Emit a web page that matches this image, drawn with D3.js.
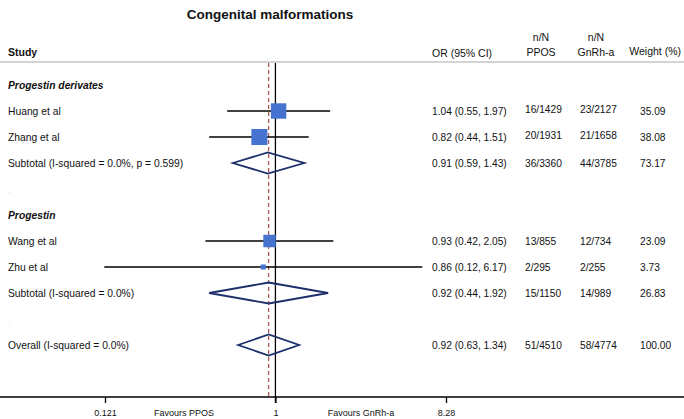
<!DOCTYPE html>
<html>
<head>
<meta charset="utf-8">
<script src="https://cdn.jsdelivr.net/npm/d3@7"></script>
<style>
  body { margin: 0; background: #fff; }
  text { font-family: "Liberation Sans", Arial, sans-serif; fill: #111; }
</style>
</head>
<body>
<div id="chart"></div>
<script>
// rows of the forest plot, top to bottom
var rowLabels = ["Progestin derivates", "Huang et al", "Zhang et al",
    "Subtotal  (I-squared = 0.0%, p = 0.599)", ".", "Progestin", "Wang et al",
    "Zhu et al", "Subtotal  (I-squared = 0.0%)", ".", "Overall  (I-squared = 0.0%)"];
var rowTypes = ["group", "study", "study", "diamond", "blank", "group", "study",
    "study", "diamond", "blank", "diamond"];
var orVals = [null, 1.04, 0.82, 0.91, null, null, 0.93, 0.86, 0.92, null, 0.92];
var loVals = [null, 0.55, 0.44, 0.59, null, null, 0.42, 0.12, 0.44, null, 0.63];
var hiVals = [null, 1.97, 1.51, 1.43, null, null, 2.05, 6.17, 1.92, null, 1.34];
var pposVals = ["", "16/1429", "20/1931", "36/3360", "", "", "13/855", "2/295", "15/1150", "", "51/4510"];
var gnrhVals = ["", "23/2127", "21/1658", "44/3785", "", "", "12/734", "2/255", "14/989", "", "58/4774"];
var weightVals = [null, 35.09, 38.08, 73.17, null, null, 23.09, 3.73, 26.83, null, 100.00];
var overallOR = 0.92;
var tickVals = [0.121, 1, 8.28];
var tickLabels = ["0.121", "1", "8.28"];

var width = 684, height = 419;
var svg = d3.select("#chart").append("svg")
    .attr("width", width)
    .attr("height", height);

var x = d3.scaleLog().domain([0.121, 8.28]).range([105, 446]);
var y = d3.scaleLinear().domain([0, rowLabels.length - 1]).range([85, 345]);
var f2 = d3.format(".2f");
var rows = d3.range(rowLabels.length);
var axisY = 397;

// title
svg.append("text").attr("x", 270).attr("y", 19)
    .attr("text-anchor", "middle")
    .style("font-size", "13.5px").style("font-weight", "bold")
    .text("Congenital malformations");

// header
var hdr = svg.append("g").style("font-size", "10.5px");
hdr.append("text").attr("x", 8).attr("y", 56).style("font-weight", "bold").text("Study");
hdr.append("text").attr("x", 432).attr("y", 57).text("OR (95% CI)");
hdr.append("text").attr("x", 541).attr("y", 41).attr("text-anchor", "middle").text("n/N");
hdr.append("text").attr("x", 541).attr("y", 56).attr("text-anchor", "middle").text("PPOS");
hdr.append("text").attr("x", 596).attr("y", 41).attr("text-anchor", "middle").text("n/N");
hdr.append("text").attr("x", 596).attr("y", 56).attr("text-anchor", "middle").text("GnRh-a");
hdr.append("text").attr("x", 681).attr("y", 55).attr("text-anchor", "end").text("Weight (%)");
svg.append("line").attr("x1", 0).attr("x2", width).attr("y1", 62).attr("y2", 62)
    .attr("stroke", "#d4d4d4").attr("stroke-width", 2);

// reference lines
svg.append("line").attr("x1", x(1)).attr("x2", x(1)).attr("y1", 63).attr("y2", axisY + 6)
    .attr("stroke", "#000").attr("stroke-width", 1.3);
svg.append("line").attr("x1", x(overallOR)).attr("x2", x(overallOR)).attr("y1", 63).attr("y2", axisY)
    .attr("stroke", "#9b2a2a").attr("stroke-width", 1).attr("stroke-dasharray", "4,3");

// row labels
svg.append("g").selectAll("text").data(rows).enter().append("text")
    .attr("x", 8)
    .attr("y", function(i) { return y(i) + 4; })
    .style("font-size", function(i) { return rowTypes[i] == "blank" ? "8px" : "10.3px"; })
    .style("font-weight", function(i) { return rowTypes[i] == "group" ? "bold" : "normal"; })
    .style("font-style", function(i) { return rowTypes[i] == "group" ? "italic" : "normal"; })
    .style("fill", function(i) { return rowTypes[i] == "blank" ? "#ccc" : "#111"; })
    .text(function(i) { return rowLabels[i]; });

var est = rows.filter(function(i) { return orVals[i] != null; });
var studies = est.filter(function(i) { return rowTypes[i] == "study"; });
var diamonds = est.filter(function(i) { return rowTypes[i] == "diamond"; });

// CI lines
svg.append("g").selectAll("line").data(studies).enter().append("line")
    .attr("x1", function(i) { return x(loVals[i]); })
    .attr("x2", function(i) { return x(hiVals[i]); })
    .attr("y1", function(i) { return y(i); })
    .attr("y2", function(i) { return y(i); })
    .attr("stroke", "#000").attr("stroke-width", 1.5);

// weight boxes
svg.append("g").selectAll("rect").data(studies).enter().append("rect")
    .attr("x", function(i) { return x(orVals[i]) - 1.3 * Math.sqrt(weightVals[i]); })
    .attr("y", function(i) { return y(i) - 1.3 * Math.sqrt(weightVals[i]); })
    .attr("width", function(i) { return 2.6 * Math.sqrt(weightVals[i]); })
    .attr("height", function(i) { return 2.6 * Math.sqrt(weightVals[i]); })
    .attr("fill", "#4673cf");

// pooled diamonds
svg.append("g").selectAll("path").data(diamonds).enter().append("path")
    .attr("d", function(i) {
        var c = y(i);
        return "M" + x(loVals[i]) + "," + c + "L" + x(orVals[i]) + "," + (c - 10.5) +
            "L" + x(hiVals[i]) + "," + c + "L" + x(orVals[i]) + "," + (c + 10.5) + "Z";
    })
    .attr("fill", "none").attr("stroke", "#1c2f6b").attr("stroke-width", 1.8);

// right hand columns
var cols = svg.append("g").style("font-size", "10.2px");
cols.selectAll(".ortext").data(est).enter().append("text").attr("class", "ortext")
    .attr("x", 432).attr("y", function(i) { return y(i) + 4; })
    .text(function(i) { return f2(orVals[i]) + " (" + f2(loVals[i]) + ", " + f2(hiVals[i]) + ")"; });
cols.selectAll(".ppos").data(est).enter().append("text").attr("class", "ppos")
    .attr("x", 525).attr("y", function(i) { return y(i) + (rowTypes[i] == "study" && i < 3 ? 2 : 4); })
    .text(function(i) { return pposVals[i]; });
cols.selectAll(".gnrh").data(est).enter().append("text").attr("class", "gnrh")
    .attr("x", 580).attr("y", function(i) { return y(i) + (rowTypes[i] == "study" && i < 3 ? 2 : 4); })
    .text(function(i) { return gnrhVals[i]; });
cols.selectAll(".wt").data(est).enter().append("text").attr("class", "wt")
    .attr("x", 640).attr("y", function(i) { return y(i) + 4; })
    .text(function(i) { return f2(weightVals[i]); });

// x axis
svg.append("line").attr("x1", 0).attr("x2", width).attr("y1", axisY).attr("y2", axisY)
    .attr("stroke", "#000").attr("stroke-width", 1.3);
var axis = svg.append("g").attr("transform", "translate(0," + axisY + ")")
    .call(d3.axisBottom(x).tickValues(tickVals).tickSize(6).tickPadding(7)
        .tickFormat(function(d, i) { return tickLabels[i]; }));
axis.select(".domain").remove();
axis.selectAll("line").attr("stroke", "#000").attr("stroke-width", 1.3);
axis.selectAll("text").style("font-size", "9px")
    .style("font-family", "'Liberation Sans', Arial, sans-serif").attr("fill", "#111");

svg.append("text").attr("x", 184).attr("y", 416).attr("text-anchor", "middle")
    .style("font-size", "9px").text("Favours PPOS");
svg.append("text").attr("x", 361).attr("y", 416).attr("text-anchor", "middle")
    .style("font-size", "9px").text("Favours GnRh-a");
</script>
</body>
</html>
